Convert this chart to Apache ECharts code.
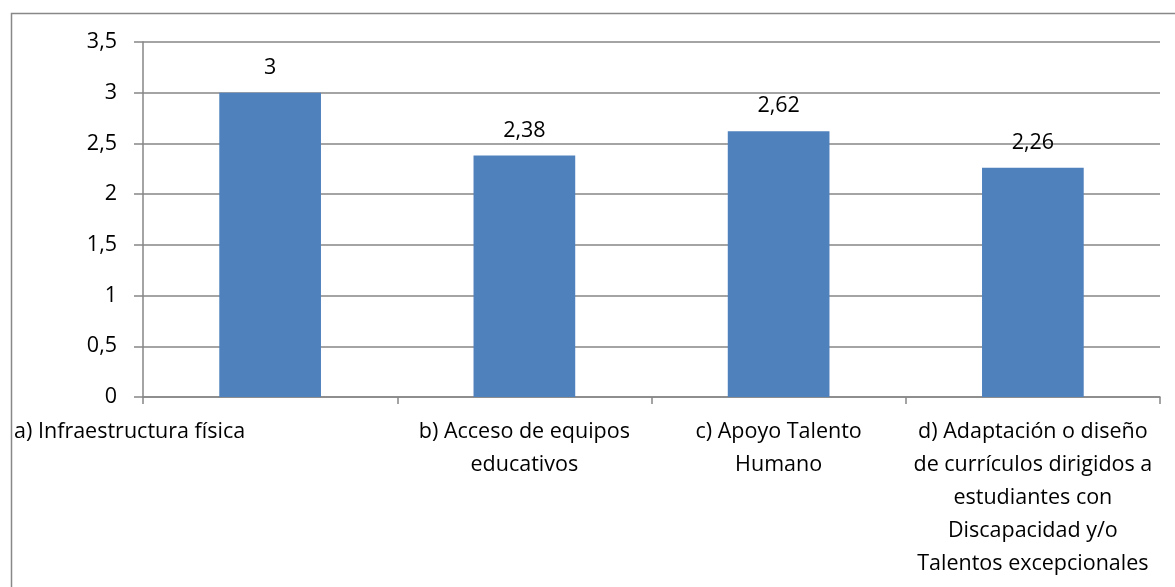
<!DOCTYPE html>
<html>
<head>
<meta charset="utf-8">
<script src="https://cdn.jsdelivr.net/npm/echarts@6/dist/echarts.min.js"></script>
<style>
html,body{margin:0;padding:0;background:#fff;}
#chart{width:1175px;height:587px;}
</style>
</head>
<body>
<div id="chart"></div>
<script>
const categories = [
  'a) Infraestructura física',
  'b) Acceso de equipos\neducativos',
  'c) Apoyo Talento\nHumano',
  'd) Adaptación o diseño\nde currículos dirigidos a\nestudiantes con\nDiscapacidad y/o\nTalentos excepcionales'
];
const values = [3, 2.38, 2.62, 2.26];
const yTicks = { min: 0, max: 3.5, interval: 0.5 };

const FONT = 'Open Sans';
const fmt = v => String(v).replace('.', ',');

const chart = echarts.init(document.getElementById('chart'));
chart.setOption({
  animation: false,
  backgroundColor: '#ffffff',
  graphic: [{
    type: 'rect',
    shape: { x: 11.5, y: 13.5, width: 1200, height: 700 },
    style: { fill: 'none', stroke: '#888888', lineWidth: 1.5 },
    silent: true
  }],
  grid: { left: 143, right: 15, top: 42, bottom: 190 },
  xAxis: {
    type: 'category',
    data: categories.map((c, i) => i === 0
      ? { value: c, textStyle: { align: 'right', padding: [0, 25, 0, 0] } }
      : c),
    axisLine: { lineStyle: { color: '#868686', width: 1.5 } },
    axisTick: { show: true, length: 7, lineStyle: { color: '#868686', width: 1.5 } },
    axisLabel: {
      interval: 0,
      color: '#000',
      fontFamily: FONT,
      fontSize: 21.5,
      lineHeight: 33,
      margin: 18
    }
  },
  yAxis: {
    type: 'value',
    min: yTicks.min, max: yTicks.max, interval: yTicks.interval,
    axisLine: { show: true, lineStyle: { color: '#868686', width: 1.5 } },
    axisTick: { show: true, length: 9, lineStyle: { color: '#868686', width: 1.5 } },
    splitLine: { lineStyle: { color: '#868686', width: 1.5 } },
    axisLabel: {
      color: '#000',
      fontFamily: FONT,
      fontSize: 21.5,
      margin: 26,
      formatter: fmt
    }
  },
  series: [{
    type: 'bar',
    data: values,
    barWidth: '40%',
    itemStyle: { color: '#4F81BD' },
    label: {
      show: true,
      position: 'top',
      distance: 14,
      color: '#000',
      fontFamily: FONT,
      fontSize: 21.5,
      formatter: p => fmt(p.value)
    }
  }]
});
</script>
</body>
</html>
